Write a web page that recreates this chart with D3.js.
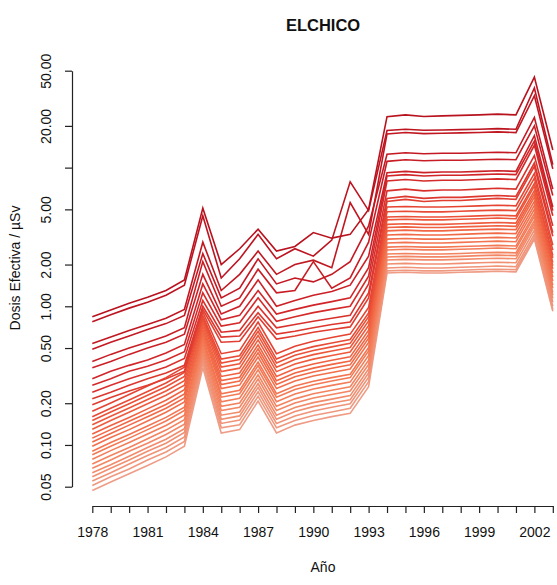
<!DOCTYPE html>
<html>
<head>
<meta charset="utf-8">
<script src="https://cdn.jsdelivr.net/npm/d3@7"></script>
<style>
  body { margin: 0; background: #fff; }
  svg text { font-family: "Liberation Sans", Arial, Helvetica, sans-serif; fill: #111; }
</style>
</head>
<body>
<svg id="chart" width="557" height="585"></svg>
<script>
// Annual effective dose series, ELCHICO site (µSv), one array per series, 1978-2003
const years = [1978, 1979, 1980, 1981, 1982, 1983, 1984, 1985, 1986, 1987, 1988, 1989, 1990,
               1991, 1992, 1993, 1994, 1995, 1996, 1997, 1998, 1999, 2000, 2001, 2002, 2003];

const yTicks = [0.05, 0.1, 0.2, 0.5, 1, 2, 5, 10, 20, 50];
const yTickLabels = ["0.05", "0.10", "0.20", "0.50", "1.00", "2.00", "5.00", "", "20.00", "50.00"];
const xLabelYears = [1978, 1981, 1984, 1987, 1990, 1993, 1996, 1999, 2002];

const s01 = [0.84, 0.94, 1.05, 1.16, 1.30, 1.55, 5.1, 2.0, 2.6, 3.6, 2.5, 2.7, 3.4, 3.1, 3.3, 5.0, 23.3, 24.0, 23.4, 23.6, 23.8, 24.0, 24.3, 24.0, 45.0, 13.4];
const s02 = [0.775, 0.87, 0.97, 1.07, 1.20, 1.42, 4.5, 1.6, 2.2, 3.3, 2.2, 2.6, 2.3, 3.0, 7.9, 4.9, 18.5, 18.9, 18.6, 18.7, 18.8, 18.9, 19.1, 18.9, 37.5, 10.5];
const s03 = [0.54, 0.60, 0.67, 0.74, 0.82, 0.95, 2.9, 1.3, 1.7, 2.5, 1.7, 2.0, 2.15, 1.9, 5.6, 3.3, 17.5, 17.9, 17.6, 17.7, 17.8, 17.9, 18.1, 17.9, 33.0, 9.8];
const s04 = [0.49, 0.55, 0.61, 0.68, 0.75, 0.86, 2.4, 1.15, 1.35, 2.2, 1.45, 1.6, 1.5, 1.7, 2.1, 3.8, 12.5, 12.8, 12.6, 12.7, 12.7, 12.8, 12.9, 12.8, 23.0, 7.0];
const s05 = [0.40, 0.45, 0.50, 0.55, 0.61, 0.70, 2.1, 1.0, 1.15, 1.85, 1.25, 1.3, 2.1, 1.35, 1.6, 2.9, 11.1, 11.4, 11.2, 11.3, 11.3, 11.4, 11.5, 11.4, 20.0, 6.3];
const s06 = [0.36, 0.40, 0.45, 0.50, 0.55, 0.63, 1.7, 0.88, 1.0, 1.55, 1.0, 1.1, 1.2, 1.28, 1.42, 2.3, 9.2, 9.4, 9.2, 9.3, 9.3, 9.4, 9.5, 9.4, 17.0, 5.2];
const s07 = [0.30, 0.34, 0.375, 0.41, 0.46, 0.53, 1.45, 0.8, 0.86, 1.3, 0.88, 0.95, 1.02, 1.08, 1.15, 1.9, 8.7, 8.9, 8.7, 8.8, 8.8, 8.9, 9.0, 8.9, 15.5, 4.9];
const s08 = [0.27, 0.30, 0.34, 0.37, 0.41, 0.47, 1.25, 0.72, 0.76, 1.15, 0.78, 0.84, 0.9, 0.95, 1.0, 1.65, 8.0, 8.2, 8.0, 8.1, 8.1, 8.2, 8.3, 8.2, 14.5, 4.5];
const s09 = [0.24, 0.27, 0.30, 0.33, 0.365, 0.42, 1.1, 0.65, 0.67, 1.0, 0.7, 0.74, 0.78, 0.82, 0.86, 1.45, 6.8, 7.0, 6.8, 6.9, 6.9, 7.0, 7.1, 7.0, 12.2, 3.8];
const s10 = [0.215, 0.24, 0.27, 0.30, 0.33, 0.375, 1.0, 0.6, 0.61, 0.9, 0.63, 0.66, 0.7, 0.74, 0.77, 1.25, 6.0, 6.2, 6.0, 6.1, 6.1, 6.2, 6.3, 6.2, 10.8, 3.4];
const s11 = [0.195, 0.22, 0.245, 0.27, 0.30, 0.34, 0.95, 0.55, 0.56, 0.84, 0.58, 0.61, 0.65, 0.68, 0.71, 1.15, 5.7, 5.9, 5.7, 5.8, 5.8, 5.9, 6.0, 5.9, 10.2, 3.2];
const s12 = [0.175, 0.201, 0.231, 0.266, 0.306, 0.364, 0.91, 0.455, 0.481, 0.77, 0.455, 0.516, 0.56, 0.595, 0.63, 0.98, 5.2, 5.25, 5.2, 5.2, 5.25, 5.3, 5.36, 5.3, 9.1, 2.76];
const s13 = [0.16, 0.184, 0.211, 0.243, 0.28, 0.333, 0.856, 0.416, 0.44, 0.704, 0.416, 0.472, 0.512, 0.544, 0.576, 0.896, 4.8, 4.85, 4.8, 4.8, 4.85, 4.9, 4.94, 4.9, 8.4, 2.54];
const s14 = [0.15, 0.173, 0.198, 0.228, 0.263, 0.312, 0.825, 0.39, 0.413, 0.66, 0.39, 0.443, 0.48, 0.51, 0.54, 0.84, 4.4, 4.44, 4.4, 4.4, 4.44, 4.49, 4.53, 4.49, 7.7, 2.33];
const s15 = [0.14, 0.161, 0.185, 0.213, 0.245, 0.291, 0.791, 0.364, 0.385, 0.616, 0.364, 0.413, 0.448, 0.476, 0.504, 0.784, 4.2, 4.24, 4.2, 4.2, 4.24, 4.28, 4.33, 4.28, 7.35, 2.23];
const s16 = [0.13, 0.15, 0.172, 0.198, 0.228, 0.27, 0.754, 0.338, 0.358, 0.572, 0.338, 0.384, 0.416, 0.442, 0.468, 0.728, 3.9, 3.94, 3.9, 3.9, 3.94, 3.98, 4.02, 3.98, 6.83, 2.07];
const s17 = [0.12, 0.138, 0.158, 0.182, 0.21, 0.25, 0.714, 0.312, 0.33, 0.528, 0.312, 0.354, 0.384, 0.408, 0.432, 0.672, 3.7, 3.74, 3.7, 3.7, 3.74, 3.77, 3.81, 3.77, 6.48, 1.96];
const s18 = [0.112, 0.129, 0.148, 0.17, 0.196, 0.233, 0.683, 0.291, 0.308, 0.493, 0.291, 0.33, 0.358, 0.381, 0.403, 0.627, 3.5, 3.54, 3.5, 3.5, 3.54, 3.57, 3.6, 3.57, 6.13, 1.86];
const s19 = [0.105, 0.121, 0.139, 0.16, 0.184, 0.218, 0.656, 0.273, 0.289, 0.462, 0.273, 0.31, 0.336, 0.357, 0.378, 0.588, 3.27, 3.3, 3.27, 3.27, 3.3, 3.34, 3.37, 3.34, 5.72, 1.73];
const s20 = [0.098, 0.113, 0.129, 0.149, 0.172, 0.204, 0.627, 0.255, 0.27, 0.431, 0.255, 0.289, 0.314, 0.333, 0.353, 0.549, 3.05, 3.08, 3.05, 3.05, 3.08, 3.11, 3.14, 3.11, 5.34, 1.62];
const s21 = [0.09, 0.104, 0.119, 0.137, 0.158, 0.187, 0.59, 0.234, 0.248, 0.396, 0.234, 0.266, 0.288, 0.306, 0.324, 0.504, 2.86, 2.89, 2.86, 2.86, 2.89, 2.92, 2.95, 2.92, 5.0, 1.52];
const s22 = [0.085, 0.098, 0.112, 0.129, 0.149, 0.177, 0.57, 0.221, 0.234, 0.374, 0.221, 0.251, 0.272, 0.289, 0.306, 0.476, 2.67, 2.7, 2.67, 2.67, 2.7, 2.72, 2.75, 2.72, 4.67, 1.42];
const s23 = [0.079, 0.091, 0.104, 0.12, 0.138, 0.164, 0.541, 0.205, 0.217, 0.348, 0.205, 0.233, 0.253, 0.269, 0.284, 0.442, 2.55, 2.58, 2.55, 2.55, 2.58, 2.6, 2.63, 2.6, 4.46, 1.35];
const s24 = [0.073, 0.084, 0.096, 0.111, 0.128, 0.152, 0.511, 0.19, 0.201, 0.321, 0.19, 0.215, 0.234, 0.248, 0.263, 0.409, 2.38, 2.4, 2.38, 2.38, 2.4, 2.43, 2.45, 2.43, 4.17, 1.26];
const s25 = [0.068, 0.078, 0.09, 0.103, 0.119, 0.141, 0.486, 0.177, 0.187, 0.299, 0.177, 0.201, 0.218, 0.231, 0.245, 0.381, 2.27, 2.29, 2.27, 2.27, 2.29, 2.32, 2.34, 2.32, 3.97, 1.2];
const s26 = [0.063, 0.072, 0.083, 0.096, 0.11, 0.131, 0.457, 0.164, 0.173, 0.277, 0.164, 0.186, 0.202, 0.214, 0.227, 0.353, 2.16, 2.18, 2.16, 2.16, 2.18, 2.2, 2.22, 2.2, 3.78, 1.14];
const s27 = [0.059, 0.068, 0.078, 0.09, 0.103, 0.123, 0.434, 0.153, 0.162, 0.26, 0.153, 0.174, 0.189, 0.201, 0.212, 0.33, 2.02, 2.04, 2.02, 2.02, 2.04, 2.06, 2.08, 2.06, 3.54, 1.07];
const s28 = [0.055, 0.063, 0.073, 0.084, 0.096, 0.114, 0.413, 0.143, 0.151, 0.242, 0.143, 0.162, 0.176, 0.187, 0.198, 0.308, 1.89, 1.91, 1.89, 1.89, 1.91, 1.93, 1.95, 1.93, 3.31, 1.0];
const s29 = [0.051, 0.059, 0.067, 0.078, 0.089, 0.106, 0.388, 0.133, 0.14, 0.224, 0.133, 0.15, 0.163, 0.173, 0.184, 0.286, 1.8, 1.82, 1.8, 1.8, 1.82, 1.84, 1.85, 1.84, 3.15, 0.95];
const s30 = [0.047, 0.054, 0.062, 0.071, 0.082, 0.098, 0.362, 0.122, 0.129, 0.207, 0.122, 0.139, 0.15, 0.16, 0.169, 0.263, 1.74, 1.76, 1.74, 1.74, 1.76, 1.77, 1.79, 1.77, 3.05, 0.92];

const series = [s01, s02, s03, s04, s05, s06, s07, s08, s09, s10, s11, s12, s13, s14, s15,
                s16, s17, s18, s19, s20, s21, s22, s23, s24, s25, s26, s27, s28, s29, s30];

const svg = d3.select("#chart");

const x = d3.scaleLinear().domain([1978, 2003]).range([92.3, 552.8]);
const y = d3.scaleLog().domain([0.05, 50]).range([486.7, 70.7]);

// dark red for the highest series, through orange-red, to salmon for the lowest
const color = d3.scaleSequential(
    d3.interpolateRgbBasis(["#B8121E", "#CF1F28", "#EA4A33", "#F26844", "#F4835E", "#EE9C86"]))
  .domain([0, series.length - 1]);

const line = d3.line()
  .x((d, i) => x(years[i]))
  .y(d => y(d));

// lowest series first so the darker ones sit on top
svg.append("g")
  .selectAll("path")
  .data(series.map((s, i) => ({ s, i })).reverse())
  .join("path")
  .attr("d", d => line(d.s))
  .attr("fill", "none")
  .attr("stroke", d => color(d.i))
  .attr("stroke-width", 1.6)
  .attr("stroke-linejoin", "miter");

// y axis (log scale, rotated labels)
const yAxis = svg.append("g")
  .attr("transform", "translate(72,0)")
  .call(d3.axisLeft(y).tickValues(yTicks).tickFormat((d, i) => yTickLabels[i]).tickSize(7).tickSizeOuter(0));
yAxis.attr("font-size", 14).attr("font-family", null);
yAxis.selectAll("text")
  .attr("x", 0)
  .attr("y", -21)
  .attr("dy", null)
  .attr("transform", "rotate(-90)")
  .attr("text-anchor", "middle");
yAxis.selectAll("path, line").attr("stroke", "#222").attr("stroke-width", 1.2);

// x axis, a tick each year, labelled every third year
const xAxis = svg.append("g")
  .attr("transform", "translate(0,506)")
  .call(d3.axisBottom(x).tickValues(years)
    .tickFormat(d => xLabelYears.includes(d) ? String(d) : "")
    .tickSize(7).tickSizeOuter(0));
xAxis.attr("font-size", 14).attr("font-family", null);
xAxis.selectAll("text").attr("y", 31).attr("dy", null);
xAxis.selectAll("path, line").attr("stroke", "#222").attr("stroke-width", 1.2);

// titles
svg.append("text")
  .attr("x", 323).attr("y", 31)
  .attr("text-anchor", "middle")
  .attr("font-size", 16.5).attr("font-weight", "bold")
  .text("ELCHICO");

svg.append("text")
  .attr("x", 323).attr("y", 572)
  .attr("text-anchor", "middle")
  .attr("font-size", 14)
  .text("Año");

svg.append("text")
  .attr("transform", "translate(20,268) rotate(-90)")
  .attr("text-anchor", "middle")
  .attr("font-size", 14)
  .text("Dosis Efectiva / µSv");
</script>
</body>
</html>
